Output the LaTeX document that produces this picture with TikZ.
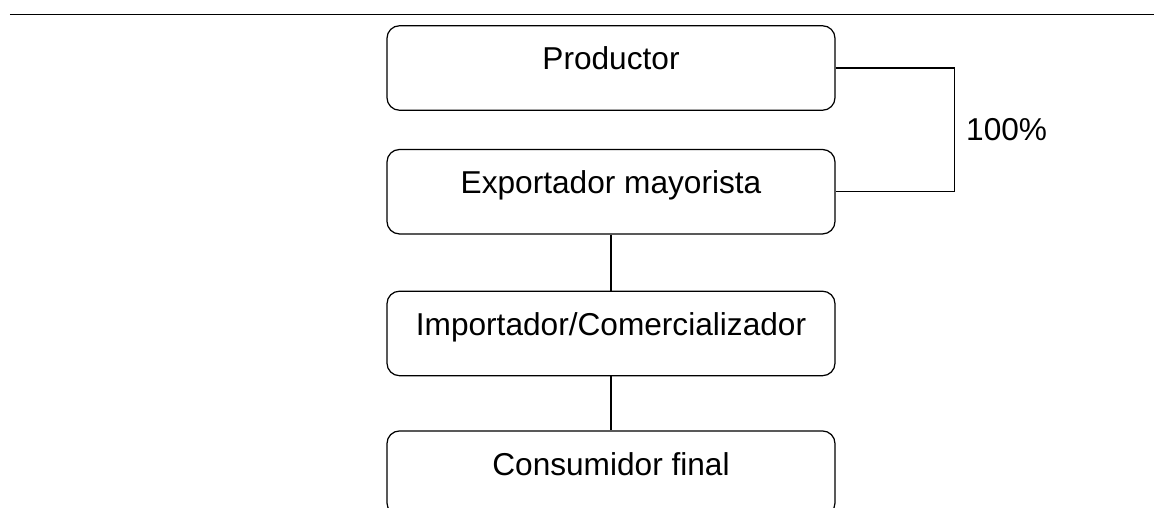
\documentclass[tikz,border=0pt]{standalone}
\usepackage{fontspec}
\setmainfont{Liberation Sans}
\usetikzlibrary{positioning}
\tikzset{
  caja/.style={draw, rounded corners=0.25cm, line width=0.7pt,
    minimum width=8.96cm, minimum height=1.69cm, inner sep=0pt,
    text height=0.46cm, text depth=0.38cm,
    font=\fontsize{18}{21}\selectfont},
  linea/.style={line width=0.7pt}
}
\begin{document}
\begin{tikzpicture}
\useasboundingbox (0,0) rectangle (23.08,10.16);
\draw[linea] (0.2,9.87)--(23.08,9.87);
\node[caja] (prod) at (12.22,8.80) {Productor};
\node[caja, below=0.76cm of prod] (expo) {Exportador mayorista};
\node[caja, below=1.12cm of expo] (impo) {Importador/Comercializador};
\node[caja, below=1.08cm of impo] (cons) {Consumidor final};
%\draw (prod.south)--(expo.north);
\draw[linea] (expo.south)--(impo.north);
\draw[linea] (impo.south)--(cons.north);
\draw[linea] (prod.east) -- ++(2.38,0) |- node[pos=0.25, right, inner sep=0.22cm, font=\fontsize{18}{21}\selectfont] (pct) {100\%} (expo.east);
\end{tikzpicture}
\end{document}
